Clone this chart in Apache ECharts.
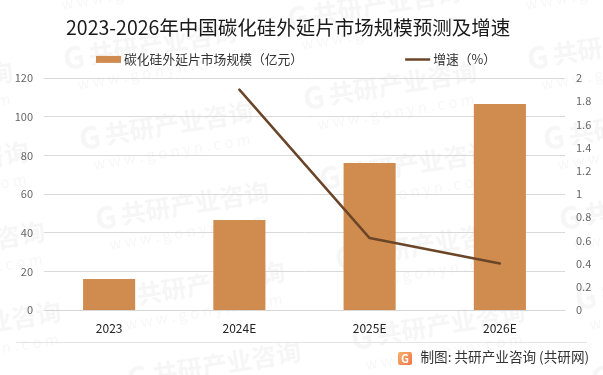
<!DOCTYPE html>
<html><head><meta charset="utf-8">
<style>html,body{margin:0;padding:0;background:#fff}#c{width:603px;height:375px}</style>
<script src="https://cdn.jsdelivr.net/npm/echarts@6/dist/echarts.min.js"></script>
</head><body><div id="c"></div>
<script>
const categories = ['2023', '2024E', '2025E', '2026E'];
const marketSize = [16, 46.5, 76, 106.5];
const growth = [null, 1.9, 0.62, 0.4];
const leftTicks = { min: 0, max: 120, interval: 20 };
const rightTicks = { min: 0, max: 2, interval: 0.2 };
const FONT = '"Noto Sans CJK SC","Noto Sans",sans-serif';

const marks = [];
for (let i = -1; i <= 2; i++) for (let j = -2; j <= 5; j++) {
  const x = 150 + i * 240 + j * 16, y = 45 + i * 40 + j * 80;
  marks.push({
    type: 'group', x, y, rotation: 0.16, silent: true,
    children: [
      { type: 'text', z: -10, style: { x: -88, y: 0, text: 'G', font: 'bold 30px ' + FONT, fill: '#f6f6f6', textVerticalAlign: 'middle' } },
      { type: 'text', z: -10, style: { x: -62, y: 0, text: '共研产业咨询', font: 'bold 25px ' + FONT, fill: '#f6f6f6', textVerticalAlign: 'middle' } },
      { type: 'text', z: -10, style: { x: -78, y: 27, text: 'w w w . g o n y n . c o m', font: '15px ' + FONT, fill: '#f7f7f7', textVerticalAlign: 'middle' } }
    ]
  });
}
const extras = [
  { type: 'line', silent: true, shape: { x1: 16, y1: 342.5, x2: 587, y2: 342.5 }, style: { stroke: '#e3e3e3', lineWidth: 1 } },
  { type: 'rect', silent: true, shape: { x: 398, y: 352, width: 14, height: 13, r: 2 }, style: { fill: new echarts.graphic.LinearGradient(0, 0, 1, 1, [{ offset: 0, color: '#f7b267' }, { offset: 1, color: '#f0744a' }]) } },
  { type: 'text', silent: true, style: { x: 405, y: 358.5, text: 'G', font: 'bold 11px ' + FONT, fill: '#fff', textAlign: 'center', textVerticalAlign: 'middle' } },
  { type: 'text', silent: true, style: { x: 420.5, y: 357, text: '制图: 共研产业咨询 (共研网)', font: '13.6px ' + FONT, fill: '#333', textVerticalAlign: 'middle' } }
];

const chart = echarts.init(document.getElementById('c'), null, { renderer: 'canvas' });
chart.setOption({
  animation: false,
  backgroundColor: '#fff',
  title: { text: '2023-2026年中国碳化硅外延片市场规模预测及增速', left: 61, top: 13,
    textStyle: { fontFamily: FONT, fontSize: 19.5, fontWeight: 'normal', color: '#1a1a1a' } },
  legend: { left: 91, top: 48, itemGap: 102, itemWidth: 25, itemHeight: 7,
    textStyle: { fontFamily: FONT, fontSize: 12.8, color: '#333', padding: [0, 0, 0, -2] },
    data: [{ name: '碳化硅外延片市场规模（亿元）', icon: 'rect' },
           { name: '增速（%）', icon: 'path://M0 0h.01v.01h-.01zM0 2.25h25v2.5h-25zM0 6.99h.01v.01h-.01z' }] },
  grid: { left: 44, right: 38, top: 78, bottom: 65 },
  xAxis: { type: 'category', data: categories,
    axisLine: { lineStyle: { color: '#d6d6d6', width: 1 } }, axisTick: { show: false },
    axisLabel: { fontFamily: FONT, fontSize: 12, color: '#222', margin: 12 } },
  yAxis: [
    { type: 'value', ...leftTicks,
      axisLine: { show: false }, axisTick: { show: false },
      axisLabel: { fontFamily: FONT, fontSize: 11, color: '#666', margin: 11 },
      splitLine: { lineStyle: { color: '#d9d9d9', width: 1 } } },
    { type: 'value', ...rightTicks, position: 'right',
      axisLine: { show: false }, axisTick: { show: false },
      axisLabel: { fontFamily: FONT, fontSize: 11, color: '#666', margin: 11 },
      splitLine: { show: false } }
  ],
  series: [
    { name: '碳化硅外延片市场规模（亿元）', type: 'bar', data: marketSize, barWidth: '40%',
      itemStyle: { color: '#d08c4f' } },
    { name: '增速（%）', type: 'line', yAxisIndex: 1, data: growth, symbol: 'none',
      connectNulls: false, lineStyle: { color: '#6b4528', width: 2.5, cap: 'round' }, itemStyle: { color: '#6b4528' } }
  ],
  graphic: { elements: [...marks, ...extras] }
});
</script></body></html>
